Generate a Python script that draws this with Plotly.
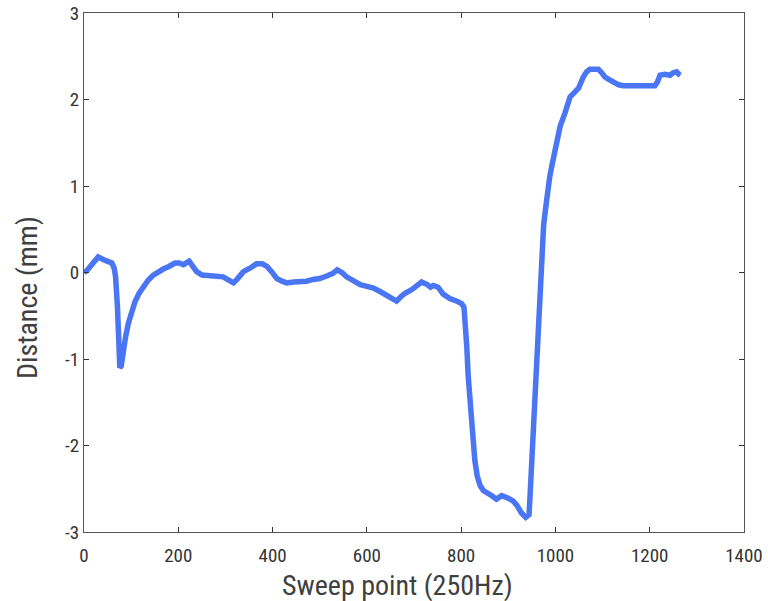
import plotly.graph_objects as go

sweep_point = [0, 6, 15, 30, 45, 59, 64, 67, 71, 73, 76, 79, 83, 88, 94, 100, 108, 117, 126, 136,
               147, 158, 168, 180, 193, 202, 211, 223, 231, 239, 250, 267, 282, 295, 308, 317, 326,
               338, 352, 366, 378, 388, 398, 409, 420, 430, 445, 458, 472, 486, 500, 515, 528, 537,
               547, 557, 571, 586, 600, 614, 628, 642, 652, 663, 672, 681, 695, 705, 716, 728, 735,
               741, 751, 762, 776, 790, 801, 806, 809, 812, 815, 818, 822, 826, 829, 834, 840, 847,
               854, 865, 875, 886, 900, 910, 918, 928, 937, 944, 946, 948, 951, 953, 957, 960, 964,
               967, 971, 975, 978, 982, 988, 993, 999, 1005, 1010, 1020, 1031, 1040, 1049, 1059,
               1066, 1073, 1082, 1091, 1098, 1105, 1114, 1123, 1134, 1144, 1158, 1172, 1186, 1201,
               1211, 1216, 1222, 1232, 1243, 1250, 1257, 1262, 1265]
distance_mm = [0.0, 0.02, 0.08, 0.18, 0.14, 0.11, 0.05, -0.05, -0.4, -0.78, -1.1, -1.08, -0.9, -0.75,
               -0.59, -0.48, -0.34, -0.24, -0.16, -0.09, -0.03, 0.01, 0.04, 0.07, 0.11, 0.11, 0.09,
               0.13, 0.07, 0.01, -0.03, -0.04, -0.04, -0.05, -0.09, -0.12, -0.07, 0.01, 0.05, 0.1,
               0.1, 0.07, 0.01, -0.07, -0.1, -0.12, -0.11, -0.11, -0.1, -0.08, -0.07, -0.04, -0.01,
               0.03, 0.0, -0.05, -0.1, -0.14, -0.16, -0.18, -0.22, -0.26, -0.29, -0.33, -0.28, -0.24,
               -0.2, -0.15, -0.11, -0.14, -0.17, -0.15, -0.17, -0.25, -0.3, -0.33, -0.36, -0.4, -0.6,
               -0.86, -1.2, -1.4, -1.78, -2.0, -2.17, -2.35, -2.46, -2.52, -2.54, -2.58, -2.62, -2.58,
               -2.61, -2.64, -2.69, -2.78, -2.83, -2.8, -2.6, -2.36, -2.0, -1.78, -1.4, -1.05, -0.47,
               -0.1, 0.3, 0.55, 0.69, 0.92, 1.11, 1.25, 1.42, 1.58, 1.69, 1.84, 2.03, 2.08, 2.13,
               2.26, 2.32, 2.35, 2.35, 2.35, 2.31, 2.26, 2.23, 2.2, 2.17, 2.16, 2.16, 2.17, 2.16,
               2.17, 2.16, 2.2, 2.28, 2.29, 2.28, 2.31, 2.32, 2.29, 2.28]

x_ticks = [0, 200, 400, 600, 800, 1000, 1200, 1400]
x_tick_labels = ["0", "200", "400", "600", "800", "1000", "1200", "1400"]
y_ticks = [-3, -2, -1, 0, 1, 2, 3]
y_tick_labels = ["-3", "-2", "-1", "0", "1", "2", "3"]

font_family = "Roboto Condensed, Liberation Sans Narrow, Arial Narrow, Liberation Sans, Arial, sans-serif"

fig = go.Figure()
fig.add_trace(go.Scatter(
    x=sweep_point, y=distance_mm, mode="lines",
    line=dict(color="#4a76f4", width=5.5),
    showlegend=False,
))

axis_common = dict(
    showgrid=False, zeroline=False, showline=True, linecolor="#555555", linewidth=1.2,
    mirror="ticks", ticks="inside", ticklen=5, tickcolor="#333333", tickwidth=1,
    tickfont=dict(family=font_family, size=19, color="#333333"),
    automargin=False,
)

fig.update_xaxes(range=[0, 1400], tickvals=x_ticks, ticktext=x_tick_labels,
                 ticklabelstandoff=6, **axis_common)
fig.update_yaxes(range=[-3, 3], tickvals=y_ticks, ticktext=y_tick_labels, **axis_common)

plot_l, plot_r, plot_t, plot_b = 84, 744, 13, 532
W, H = 768, 601

fig.add_annotation(
    text="Sweep point (250Hz)", xref="paper", yref="paper",
    x=(397 - plot_l) / (plot_r - plot_l), y=-(585 - plot_b) / (plot_b - plot_t),
    xanchor="center", yanchor="middle", showarrow=False,
    font=dict(family=font_family, size=28, color="#404040"),
)
fig.add_annotation(
    text="Distance (mm)", xref="paper", yref="paper",
    x=-(plot_l - 27) / (plot_r - plot_l), y=(plot_b - 298) / (plot_b - plot_t),
    xanchor="center", yanchor="middle", showarrow=False, textangle=-90,
    font=dict(family=font_family, size=28, color="#404040"),
)

fig.update_layout(
    width=W, height=H,
    margin=dict(l=plot_l, r=W - plot_r, t=plot_t, b=H - plot_b, autoexpand=False),
    paper_bgcolor="white", plot_bgcolor="white",
)

fig.write_html("out.html")
